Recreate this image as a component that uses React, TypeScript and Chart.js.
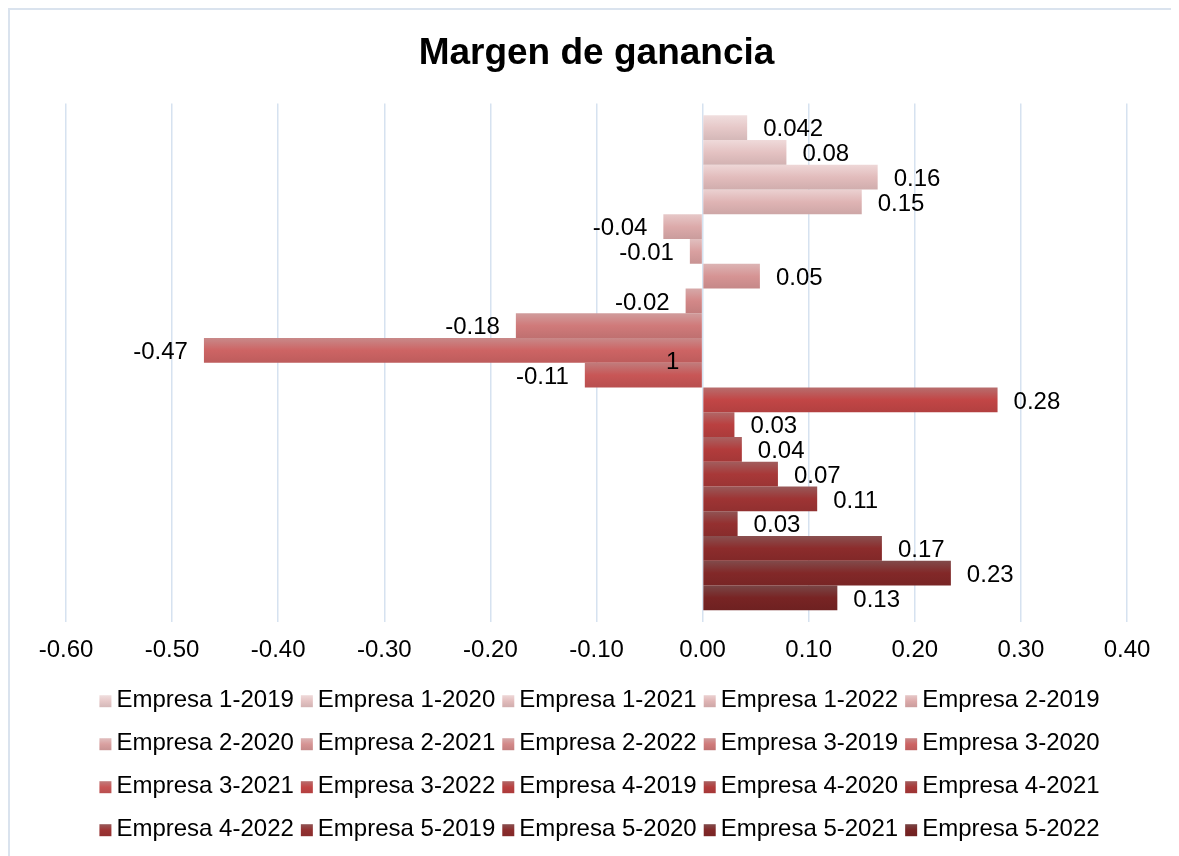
import React, { useEffect, useRef } from 'react';
import { Chart, registerables } from 'chart.js';

Chart.register(...registerables);

const CATEGORIES = [''];

const SERIES_NAMES = [
  'Empresa 1-2019', 'Empresa 1-2020', 'Empresa 1-2021', 'Empresa 1-2022',
  'Empresa 2-2019', 'Empresa 2-2020', 'Empresa 2-2021', 'Empresa 2-2022',
  'Empresa 3-2019', 'Empresa 3-2020', 'Empresa 3-2021', 'Empresa 3-2022',
  'Empresa 4-2019', 'Empresa 4-2020', 'Empresa 4-2021', 'Empresa 4-2022',
  'Empresa 5-2019', 'Empresa 5-2020', 'Empresa 5-2021', 'Empresa 5-2022',
];

const MARGIN_VALUES = [
  0.042, 0.079, 0.165, 0.15,
  -0.037, -0.012, 0.054, -0.016,
  -0.176, -0.47, -0.111, 0.278,
  0.03, 0.037, 0.071, 0.108,
  0.033, 0.169, 0.234, 0.127,
];

const VALUE_LABELS = [
  '0.042', '0.08', '0.16', '0.15',
  '-0.04', '-0.01', '0.05', '-0.02',
  '-0.18', '-0.47', '-0.11', '0.28',
  '0.03', '0.04', '0.07', '0.11',
  '0.03', '0.17', '0.23', '0.13',
];

// stray label visible in the source chart (between series 10 and 11)
const STRAY_LABEL_TEXT = '1';
const STRAY_LABEL_VALUE = -0.022;
const STRAY_LABEL_BETWEEN = [9, 10];

const X_MIN = -0.6;
const X_MAX = 0.4;
const X_STEP = 0.1;

const BASE_COLORS: number[][] = [
  [230, 200, 200], [228, 194, 194], [226, 188, 188], [223, 180, 180],
  [220, 170, 170], [217, 160, 160], [214, 148, 148], [211, 136, 136],
  [208, 122, 122], [205, 100, 100], [200, 86, 86], [194, 70, 70],
  [186, 64, 64], [178, 60, 60], [168, 56, 56], [158, 52, 52],
  [148, 48, 48], [140, 44, 44], [130, 40, 40], [120, 36, 36],
];

const FONT = "'Liberation Sans', Arial, sans-serif";

function rgb(c: number[]) {
  return `rgb(${Math.round(c[0])},${Math.round(c[1])},${Math.round(c[2])})`;
}

function topColor(c: number[]) {
  const lum = 0.3 * c[0] + 0.59 * c[1] + 0.11 * c[2];
  const g = Math.min(255, lum + 60);
  return c.map((v) => v * 0.6 + g * 0.4);
}

function bottomColor(c: number[]) {
  return c.map((v) => v * 0.92);
}

function makeGradient(ctx: CanvasRenderingContext2D, i: number, y0: number, y1: number) {
  const g = ctx.createLinearGradient(0, y0, 0, y1);
  const base = BASE_COLORS[i];
  g.addColorStop(0, rgb(topColor(base)));
  g.addColorStop(0.5, rgb(base));
  g.addColorStop(1, rgb(bottomColor(base)));
  return g;
}

const gradientPlugin = {
  id: 'barGradient',
  beforeDatasetsDraw(chart: any) {
    const ctx = chart.ctx;
    chart.data.datasets.forEach((_ds: any, i: number) => {
      const meta = chart.getDatasetMeta(i);
      meta.data.forEach((el: any) => {
        const y0 = el.y - el.height / 2;
        const y1 = el.y + el.height / 2;
        el.options = { ...el.options, backgroundColor: makeGradient(ctx, i, y0, y1) };
      });
    });
  },
};

const labelPlugin = {
  id: 'valueLabels',
  afterDatasetsDraw(chart: any) {
    const ctx = chart.ctx;
    const dy = 2;
    ctx.save();
    ctx.font = `24px ${FONT}`;
    ctx.fillStyle = '#000';
    ctx.textBaseline = 'middle';
    chart.data.datasets.forEach((ds: any, i: number) => {
      const meta = chart.getDatasetMeta(i);
      meta.data.forEach((el: any, j: number) => {
        const v = ds.data[j];
        if (v >= 0) {
          ctx.textAlign = 'left';
          ctx.fillText(VALUE_LABELS[i], el.x + 16, el.y + dy);
        } else {
          ctx.textAlign = 'right';
          ctx.fillText(VALUE_LABELS[i], el.x - 16, el.y + dy);
        }
      });
    });
    const a = chart.getDatasetMeta(STRAY_LABEL_BETWEEN[0]).data[0];
    const b = chart.getDatasetMeta(STRAY_LABEL_BETWEEN[1]).data[0];
    if (a && b) {
      ctx.textAlign = 'right';
      ctx.fillText(STRAY_LABEL_TEXT, chart.scales.x.getPixelForValue(STRAY_LABEL_VALUE), (a.y + b.y) / 2);
    }
    ctx.restore();
  },
};

const legendPlugin = {
  id: 'gridLegend',
  afterDraw(chart: any) {
    const ctx = chart.ctx;
    const perRow = 5;
    const box = 12;
    const boxGap = 5;
    const itemGap = 7;
    const firstRowOffset = 78;
    const rowGap = 43;
    const centerX = chart.width / 2 + 5;
    ctx.save();
    ctx.font = `24px ${FONT}`;
    ctx.textBaseline = 'middle';
    ctx.textAlign = 'left';
    for (let r = 0; r * perRow < SERIES_NAMES.length; r++) {
      const items = SERIES_NAMES.slice(r * perRow, r * perRow + perRow);
      const widths = items.map((t) => box + boxGap + ctx.measureText(t).width);
      const total = widths.reduce((s, w) => s + w, 0) + itemGap * (items.length - 1);
      let x = centerX - total / 2;
      const y = chart.chartArea.bottom + firstRowOffset + r * rowGap;
      items.forEach((t, k) => {
        const idx = r * perRow + k;
        ctx.fillStyle = makeGradient(ctx, idx, y - box / 2 + 1, y + box / 2 + 1);
        ctx.fillRect(x, y - box / 2 + 1, box, box);
        ctx.fillStyle = '#000';
        ctx.fillText(t, x + box + boxGap, y);
        x += widths[k] + itemGap;
      });
    }
    ctx.restore();
  },
};

export default function App() {
  const ref = useRef<HTMLCanvasElement | null>(null);

  useEffect(() => {
    document.body.style.overflow = 'hidden';
    if (!ref.current) return;
    const chart = new Chart(ref.current, {
      type: 'bar',
      data: {
        labels: CATEGORIES,
        datasets: SERIES_NAMES.map((name, i) => ({
          label: name,
          data: [MARGIN_VALUES[i]],
          backgroundColor: rgb(BASE_COLORS[i]),
          borderWidth: 0,
          categoryPercentage: 0.954,
          barPercentage: 1,
        })),
      },
      options: {
        indexAxis: 'y',
        responsive: false,
        animation: false,
        layout: { padding: { left: 56, right: 52, top: 0, bottom: 177 } },
        plugins: {
          legend: { display: false },
          tooltip: { enabled: false },
          title: {
            display: true,
            text: 'Margen de ganancia',
            color: '#000',
            font: { family: FONT, size: 37, weight: 'bold' },
            padding: { top: 22, bottom: 27 },
          },
        },
        scales: {
          x: {
            min: X_MIN,
            max: X_MAX,
            ticks: {
              stepSize: X_STEP,
              color: '#000',
              font: { family: FONT, size: 24 },
              padding: 14,
              callback: (v: any) => Number(v).toFixed(2),
            },
            grid: { color: '#d6e2f0', lineWidth: 1.5, drawTicks: false },
            border: { display: false },
          },
          y: { display: false },
        },
      },
      plugins: [gradientPlugin, labelPlugin, legendPlugin],
    });
    return () => chart.destroy();
  }, []);

  return (
    <div
      style={{
        width: 1169,
        height: 846,
        borderLeft: '2px solid #dae3ee',
        borderTop: '2px solid #dae3ee',
      }}
    >
      <canvas ref={ref} width={1169} height={846} style={{ display: 'block' }} />
    </div>
  );
}
